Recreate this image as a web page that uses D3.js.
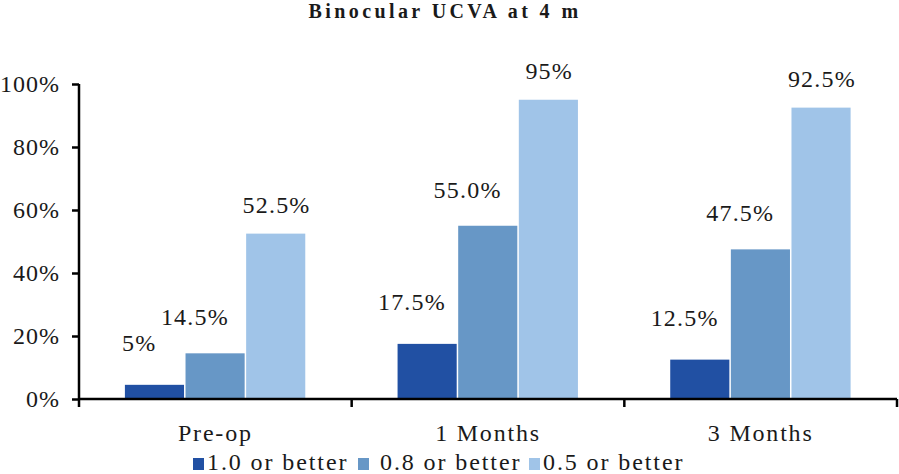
<!DOCTYPE html>
<html>
<head>
<meta charset="utf-8">
<script src="https://cdn.jsdelivr.net/npm/d3@7"></script>
<style>
  html, body { margin: 0; padding: 0; background: #fff; }
  svg { display: block; }
</style>
</head>
<body>
<svg id="chart" width="899" height="474"></svg>
<script>
// ---- data ----
const title = "Binocular UCVA at 4 m";
const categories = ["Pre-op", "1 Months", "3 Months"];
const seriesNames = ["1.0 or better", "0.8 or better", "0.5 or better"];
const series10 = [4.5, 17.5, 12.5];
const series08 = [14.5, 55.0, 47.5];
const series05 = [52.5, 95, 92.5];
const labels10 = ["5%", "17.5%", "12.5%"];
const labels08 = ["14.5%", "55.0%", "47.5%"];
const labels05 = ["52.5%", "95%", "92.5%"];
const yTicks = [0, 20, 40, 60, 80, 100];

// ---- styling ----
const FONT = "Liberation Serif, Liberation Sans, Arial, sans-serif";
const colors = ["#2150a3", "#6797c6", "#a0c4e8"];
const labelNudge = [{dx: -16, dy: -34}, {dx: -21, dy: -28}, {dx: 0, dy: -21}];

const seriesValues = [series10, series08, series05];
const seriesLabels = [labels10, labels08, labels05];

const svg = d3.select("#chart").attr("font-family", FONT);
const mLeft = 79, mRight = 897, mTop = 84, mBottom = 399;

const x = d3.scaleBand().domain(categories).range([mLeft, mRight]).paddingInner(0.333).paddingOuter(0.1665);
const xs = d3.scaleBand().domain(d3.range(seriesNames.length)).range([0, x.bandwidth()]);
const y = d3.scaleLinear().domain([0, 100]).range([mBottom, mTop]);

function styleText(sel, size, spacing) {
  return sel.attr("font-family", FONT).attr("font-size", size).attr("letter-spacing", spacing).attr("fill", "#1a1a1a");
}

// title
styleText(svg.append("text"), 20, 3.4)
  .attr("x", 445).attr("y", 18)
  .attr("text-anchor", "middle")
  .attr("font-weight", "bold")
  .text(title);

// bars
const groups = svg.append("g").selectAll("g")
  .data(seriesNames.map((n, i) => ({name: n, i})))
  .join("g");

groups.each(function(s) {
  const g = d3.select(this);
  categories.forEach((c, j) => {
    const v = seriesValues[s.i][j];
    g.append("rect")
      .attr("x", x(c) + xs(s.i) + 0.5)
      .attr("width", xs.bandwidth() - 1.5)
      .attr("y", y(v))
      .attr("height", y(0) - y(v))
      .attr("fill", colors[s.i]);
    styleText(g.append("text"), 24, 1.2)
      .attr("x", x(c) + xs(s.i) + xs.bandwidth() / 2 + labelNudge[s.i].dx + 0.6)
      .attr("y", y(v) + labelNudge[s.i].dy)
      .attr("text-anchor", "middle")
      .text(seriesLabels[s.i][j]);
  });
});

// y axis
const yAxis = d3.axisLeft(y).tickValues(yTicks).tickFormat(d => d + "%").tickSize(7).tickPadding(12);
const gy = svg.append("g").attr("transform", `translate(${mLeft},0)`).call(yAxis);
gy.attr("font-family", FONT);
gy.select(".domain").attr("d", `M0,${mTop}V${mBottom + 8}`).attr("stroke", "#000").attr("stroke-width", 2.5);
gy.selectAll(".tick line").attr("stroke", "#000").attr("stroke-width", 2.5);
styleText(gy.selectAll(".tick text"), 24, 1).attr("dy", "0.32em");

// x axis
const xAxis = d3.axisBottom(x).tickSize(0).tickPadding(25);
const gx = svg.append("g").attr("transform", `translate(0,${mBottom})`).call(xAxis);
gx.attr("font-family", FONT);
gx.select(".domain").attr("d", `M${mLeft},0H${mRight}`).attr("stroke", "#000").attr("stroke-width", 2.5);
styleText(gx.selectAll(".tick text"), 24, 1.8).attr("dy", "0.71em");
// category boundary ticks
const bounds = categories.map(c => x(c) - x.step() * x.paddingInner() / 2 + x.step());
gx.selectAll(".bound").data(bounds).join("line")
  .attr("x1", d => d).attr("x2", d => d).attr("y1", 0).attr("y2", 8)
  .attr("stroke", "#000").attr("stroke-width", 2.5);

// legend
const legendX = [193, 358, 529];
const lg = svg.append("g").selectAll("g").data(seriesNames).join("g")
  .attr("transform", (d, i) => `translate(${legendX[i]},0)`);
lg.append("rect").attr("x", 0).attr("y", 458).attr("width", 11).attr("height", 12)
  .attr("fill", (d, i) => colors[i]);
styleText(lg.append("text"), 24, 1.9)
  .attr("x", (d, i) => i === 1 ? 22 : 14).attr("y", 470)
  .text(d => d);
</script>
</body>
</html>
